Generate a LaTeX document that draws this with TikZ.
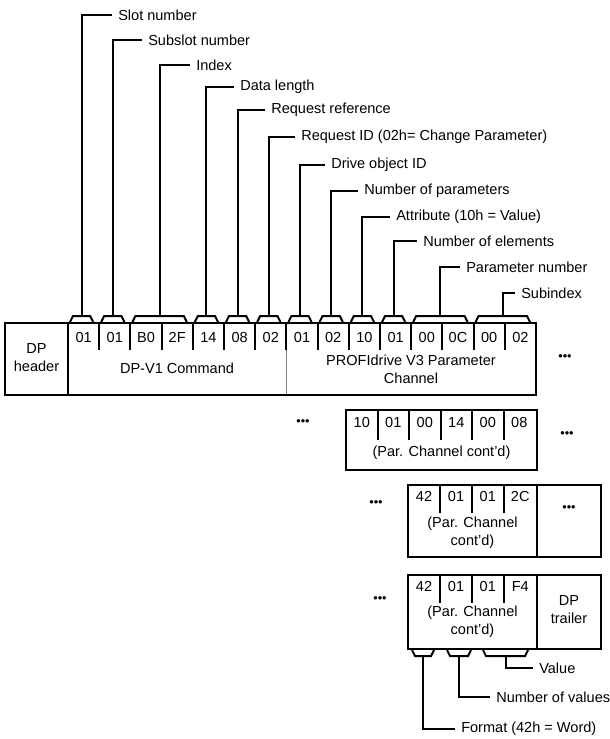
\documentclass[tikz,border=0pt]{standalone}
\usepackage{fontspec}
\setmainfont{Liberation Sans}
\newcommand\tbrace[3]{%
  \draw[ln] (#1+2,322) -- (#1+5,316) -- (#2-9,316) -- (#2-6,322);
  \coordinate (#3) at ({(#1+#2)/2-2},316);}
\newcommand\bbrace[3]{%
  \draw[ln] (#1,650) -- (#1+3,656) -- (#2-3,656) -- (#2,650);
  \coordinate (#3) at ({(#1+#2)/2},656);}
\begin{document}
\begin{tikzpicture}[x=0.75pt,y=-0.75pt,
  ln/.style={line width=1.5pt},
  txt/.style={inner sep=0pt, font=\fontsize{10.9}{13.5}\selectfont, align=center},
  lbl/.style={inner sep=0pt, inner xsep=4.5pt, anchor=west, font=\fontsize{10.9}{13}\selectfont},
  dots/.style={inner sep=0pt, font=\fontsize{9.5}{9.5}\selectfont}]
\useasboundingbox (0,0) rectangle (610,739);

% ---------- Row 1 ----------
\draw[line width=0.75pt, draw=gray] (286.4,350) -- (286.4,395);
\draw[ln] (5,323) rectangle (536,395);
\draw[ln] (68,323) -- (68,395);
\foreach \i in {1,...,14} \draw[ln] ({68+31.2*\i},323) -- ++(0,27);
\foreach \v [count=\i] in {01,01,B0,2F,14,08,02,01,02,10,01,00,0C,00,02}
  \node[txt] (r1c\i) at ({68+31.2*(\i-0.5)},337) {\v};
\node[txt] (dph) at (36.5,358) {DP\\header};
\node[txt] (dpv) at (177,368) {DP-V1 Command};
\node[txt] (prof) at (411,369) {PROFIdrive V3 Parameter\\Channel};
\node[dots] (d1) at (565,358) {•••};

% top braces
\tbrace{68}{99.2}{bslot}
\tbrace{99.2}{130.4}{bsub}
\tbrace{130.4}{192.8}{bidx}
\tbrace{192.8}{224}{bdl}
\tbrace{224}{255.2}{brr}
\tbrace{255.2}{286.4}{brid}
\tbrace{286.4}{317.6}{bdo}
\tbrace{317.6}{348.8}{bnp}
\tbrace{348.8}{380}{batt}
\tbrace{380}{411.2}{bne}
\tbrace{411.2}{473.6}{bpn}
\tbrace{473.6}{536}{bsi}

% labels
\node[lbl] (lslot) at (112,15)  {Slot number};
\node[lbl] (lsub)  at (142,40)  {Subslot number};
\node[lbl] (lidx)  at (190,65)  {Index};
\node[lbl] (ldl)   at (234,87)  {Data length};
\node[lbl] (lrr)   at (265,110) {Request reference};
\node[lbl] (lrid)  at (295,137) {Request ID (02h= Change Parameter)};
\node[lbl] (ldo)   at (325,165) {Drive object ID};
\node[lbl] (lnp)   at (358,191) {Number of parameters};
\node[lbl] (latt)  at (390,217) {Attribute (10h = Value)};
\node[lbl] (lne)   at (417,241) {Number of elements};
\node[lbl] (lpn)   at (460,267) {Parameter number};
\node[lbl] (lsi)   at (515,293) {Subindex};
\foreach \b/\l in {bslot/lslot,bsub/lsub,bidx/lidx,bdl/ldl,brr/lrr,brid/lrid,
                   bdo/ldo,bnp/lnp,batt/latt,bne/lne,bpn/lpn,bsi/lsi}
  \draw[ln] (\b) |- (\l.west);

% ---------- Row 2 ----------
\node[dots] (d2) at (303,423) {•••};
\draw[ln] (346,410) rectangle (537,470);
\foreach \i in {1,...,5} \draw[ln] ({346+31.5*\i},410) -- ++(0,30);
\foreach \v [count=\i] in {10,01,00,14,00,08}
  \node[txt] (r2c\i) at ({346+31.5*(\i-0.5)},422) {\v};
\node[txt] (pc2) at (441.5,453) {(Par. Channel cont'd)};
\node[dots] (d3) at (567,435) {•••};

% ---------- Row 3 ----------
\node[dots] (d4) at (376,504) {•••};
\draw[ln] (408,485) rectangle (601,557);
\draw[ln] (537,485) -- (537,557);
\foreach \x in {440,472,503.5} \draw[ln] (\x,485) -- (\x,513);
\foreach \v/\x [count=\i] in {42/424,01/456,01/487.75,2C/520.25}
  \node[txt] (r3c\i) at (\x,496) {\v};
\node[txt] (pc3) at (472.5,533) {(Par. Channel\\cont'd)};
\node[dots] (d5) at (569,509) {•••};

% ---------- Row 4 ----------
\node[dots] (d6) at (380,600) {•••};
\draw[ln] (408,575) rectangle (601,649);
\draw[ln] (537,575) -- (537,649);
\foreach \x in {440,472,503.5} \draw[ln] (\x,575) -- (\x,603);
\foreach \v/\x [count=\i] in {42/424,01/456,01/487.75,F4/520.25}
  \node[txt] (r4c\i) at (\x,586) {\v};
\node[txt] (pc4) at (472.5,622) {(Par. Channel\\cont'd)};
\node[txt] (dpt) at (569,610) {DP\\trailer};

% bottom braces
\bbrace{412}{434}{bfmt}
\bbrace{447}{471}{bnv}
\bbrace{483}{528}{bval}
\node[lbl] (lval) at (533,668) {Value};
\node[lbl] (lnv)  at (490,697) {Number of values};
\node[lbl] (lfmt) at (455,729) {Format (42h = Word)};
\foreach \b/\l in {bval/lval,bnv/lnv,bfmt/lfmt}
  \draw[ln] (\b) |- (\l.west);
\end{tikzpicture}
\end{document}
